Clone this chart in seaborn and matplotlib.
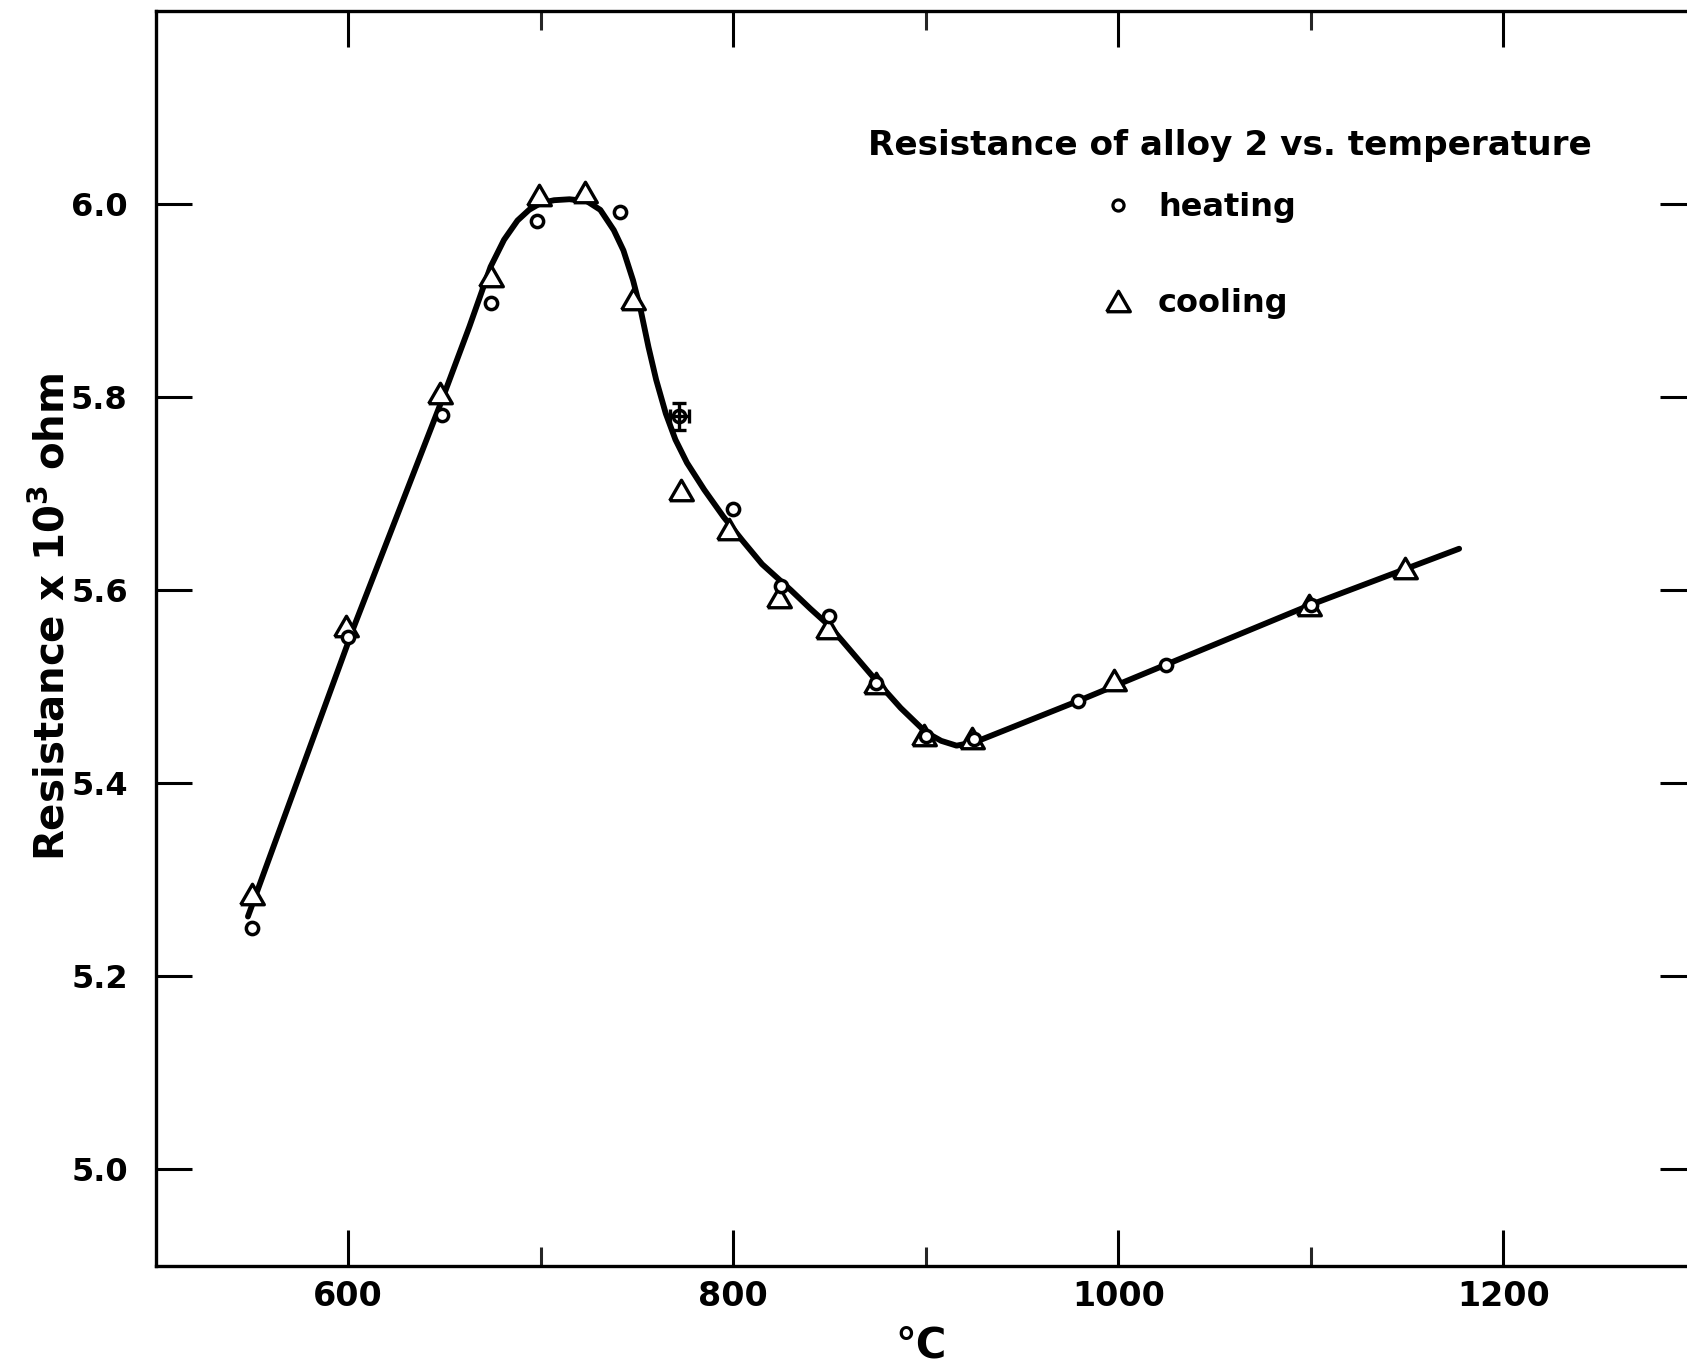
import matplotlib
matplotlib.use("Agg")
import matplotlib.pyplot as plt
import seaborn as sns
from matplotlib.lines import Line2D
from matplotlib.ticker import FixedLocator, FormatStrFormatter

# ---------------- data ----------------
heat_T = [550, 600, 649, 674, 698, 741, 772, 800, 825, 850, 874, 900, 925, 979, 1025, 1100]
heat_R = [5.250, 5.552, 5.781, 5.898, 5.982, 5.992, 5.780, 5.684, 5.604, 5.573, 5.504,
          5.449, 5.446, 5.485, 5.523, 5.585]

err_T = [772]
err_R = [5.780]
err_dT = [5]
err_dR = [0.014]

cool_T = [550, 599, 648, 674, 699, 723, 748, 773, 798, 824, 849, 874, 899, 924, 998, 1099, 1149]
cool_R = [5.285, 5.563, 5.804, 5.925, 6.009, 6.012, 5.902, 5.704, 5.663, 5.593, 5.561,
          5.504, 5.450, 5.447, 5.507, 5.585, 5.623]

curve_T = [548, 603, 648, 663, 674, 681, 688, 694, 700, 707, 715, 724, 731, 738, 743, 748,
           752, 756, 760, 765, 770, 776, 785, 795, 805, 815, 830, 840, 850, 862, 874, 887,
           900, 908, 916, 926, 980, 1100, 1177]
curve_R = [5.262, 5.562, 5.793, 5.873, 5.935, 5.963, 5.983, 5.994, 6.001, 6.004, 6.005,
           6.003, 5.994, 5.973, 5.952, 5.921, 5.890, 5.852, 5.818, 5.783, 5.756, 5.732,
           5.704, 5.676, 5.651, 5.627, 5.600, 5.581, 5.563, 5.535, 5.507, 5.478, 5.453,
           5.444, 5.439, 5.443, 5.486, 5.585, 5.643]

x_major = [600, 800, 1000, 1200]
x_minor = [700, 900, 1100]
y_major = [5.0, 5.2, 5.4, 5.6, 5.8, 6.0]

title_text = "Resistance of alloy 2 vs. temperature"
series_labels = ["heating", "cooling"]
x_label = "°C"
y_label = "Resistance x 10$^3$ ohm"

# ---------------- style ----------------
sns.set_theme(style="white")
plt.rcParams["font.family"] = ["DejaVu Sans"]
plt.rcParams["font.weight"] = "bold"
plt.rcParams["text.color"] = "black"
plt.rcParams["axes.labelcolor"] = "black"
plt.rcParams["mathtext.fontset"] = "dejavusans"
plt.rcParams["mathtext.default"] = "bf"

W, H = 1687, 1366
fig = plt.figure(figsize=(W / 100, H / 100), dpi=100)
fig.patch.set_facecolor("white")
left_px, right_px, top_px, bot_px = 155.5, 1696, 11, 1266
ax = fig.add_axes([left_px / W, (H - bot_px) / H, (right_px - left_px) / W, (bot_px - top_px) / H])
ax.set_facecolor("white")

# triangle marker (equilateral, centred at mid-height)
tri = [(-1, -0.866), (1, -0.866), (0, 0.866), (-1, -0.866)]

sns.lineplot(x=curve_T, y=curve_R, sort=False, color="black", linewidth=4.2, ax=ax,
             zorder=2, solid_joinstyle="round", solid_capstyle="round")
sns.scatterplot(x=cool_T, y=cool_R, marker=tri, s=290, color="white", edgecolor="black",
                linewidth=2.4, ax=ax, zorder=3)
sns.scatterplot(x=heat_T, y=heat_R, marker="o", s=78, color="white", edgecolor="black",
                linewidth=2.5, ax=ax, zorder=4)
ax.errorbar(err_T, err_R, xerr=err_dT, yerr=err_dR, fmt="none", ecolor="black",
            elinewidth=2.4, capsize=5, capthick=2.4, zorder=5)

ax.set_xlim(500, 1300)
ax.set_ylim(4.9, 6.2)

ax.xaxis.set_major_locator(FixedLocator(x_major))
ax.xaxis.set_minor_locator(FixedLocator(x_minor))
ax.yaxis.set_major_locator(FixedLocator(y_major))
ax.yaxis.set_major_formatter(FormatStrFormatter("%.1f"))
ax.xaxis.set_major_formatter(FormatStrFormatter("%d"))

ax.tick_params(axis="both", which="major", direction="in", length=26, width=2.2,
               top=True, right=True, bottom=True, left=True, labelsize=24, colors="black")
ax.tick_params(axis="x", which="minor", direction="in", length=14, width=2.2,
               top=True, bottom=True)
ax.tick_params(axis="x", which="major", pad=10)
ax.tick_params(axis="y", which="major", pad=20, labelsize=23)
for s in ax.spines.values():
    s.set_linewidth(2.4)
    s.set_color("black")
    s.set_visible(True)

ax.set_xlabel(x_label, fontsize=30, color="black", fontweight="bold")
ax.set_ylabel(y_label, fontsize=29, color="black", fontweight="bold")
ax.xaxis.set_label_coords(0.497, -0.047)
ax.yaxis.set_label_coords(-0.053, 0.517)

ax.text(0.6975, 0.893, title_text, transform=ax.transAxes, ha="center", va="center",
        fontsize=24.7, color="black", fontweight="bold")

handles = [
    Line2D([], [], ls="", marker="o", ms=8, mfc="white", mec="black", mew=2.3),
    Line2D([], [], ls="", marker=tri, ms=17, mfc="white", mec="black", mew=2.4),
]
ax.legend(handles=handles, labels=series_labels, loc="upper left",
          bbox_to_anchor=(0.6144, 0.856), frameon=False,
          prop={"size": 23, "weight": "bold"}, labelcolor="black",
          handlelength=1.0, handletextpad=0.75, borderpad=0, labelspacing=2.05,
          borderaxespad=0)

fig.savefig("out.png", dpi=100, facecolor="white")
